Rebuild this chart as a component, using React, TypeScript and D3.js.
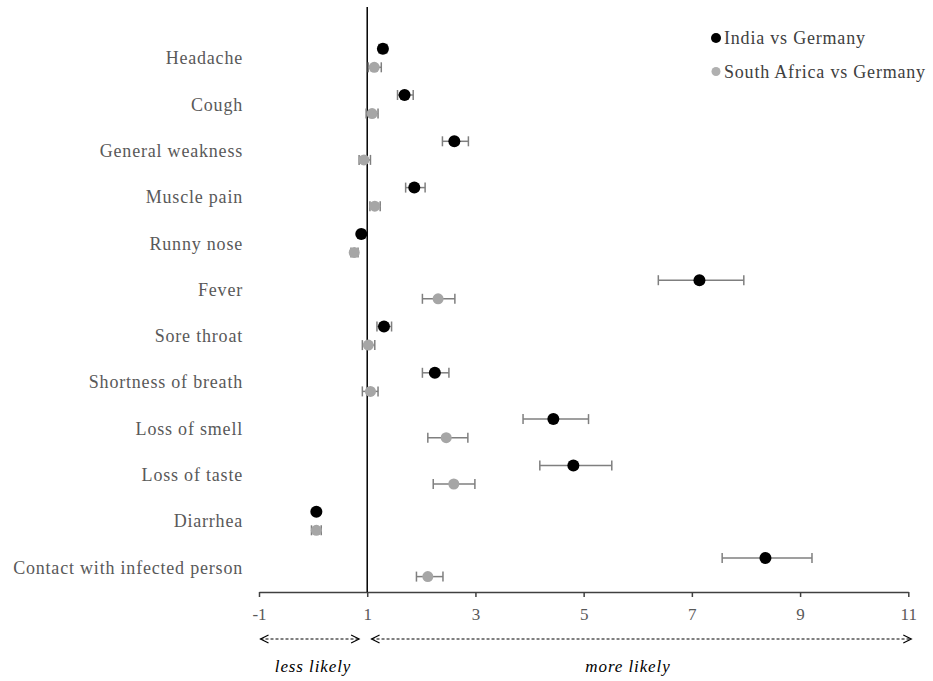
import React, { useEffect, useRef } from 'react';
import * as d3 from 'd3';

const categories = [
  'Headache', 'Cough', 'General weakness', 'Muscle pain', 'Runny nose', 'Fever',
  'Sore throat', 'Shortness of breath', 'Loss of smell', 'Loss of taste', 'Diarrhea',
  'Contact with infected person',
];

// India vs Germany: odds ratio with lower/upper bounds
const indiaOR = [1.29, 1.69, 2.61, 1.87, 0.89, 7.14, 1.31, 2.25, 4.44, 4.81, 0.06, 8.36];
const indiaLo = [1.22, 1.56, 2.39, 1.71, 0.84, 6.38, 1.18, 2.02, 3.88, 4.19, 0.04, 7.56];
const indiaHi = [1.36, 1.85, 2.87, 2.07, 0.95, 7.96, 1.45, 2.51, 5.09, 5.52, 0.08, 9.22];

// South Africa vs Germany
const saOR = [1.13, 1.09, 0.94, 1.14, 0.76, 2.31, 1.02, 1.06, 2.46, 2.60, 0.06, 2.12];
const saLo = [1.02, 0.98, 0.85, 1.05, 0.70, 2.02, 0.91, 0.91, 2.12, 2.22, -0.03, 1.91];
const saHi = [1.26, 1.20, 1.06, 1.24, 0.83, 2.62, 1.14, 1.20, 2.86, 2.99, 0.15, 2.40];

const xTicks = [-1, 1, 3, 5, 7, 9, 11];
const seriesNames = ['India vs Germany', 'South Africa vs Germany'];

const width = 933;
const height = 681;
const font = '"Liberation Serif", "Times New Roman", serif';

const App = () => {
  const svgRef = useRef<SVGSVGElement>(null);

  useEffect(() => {
    const svg = d3.select(svgRef.current);
    svg.selectAll('*').remove();

    const x = d3.scaleLinear().domain([-1, 11]).range([259, 908.3]);
    const y = d3.scalePoint().domain(categories).range([58, 567.3]);
    const axisY = 592;

    const series = [
      { or: indiaOR, lo: indiaLo, hi: indiaHi, color: '#000000', dy: -9.3, r: 6 },
      { or: saOR, lo: saLo, hi: saHi, color: '#a6a6a6', dy: 9.3, r: 5.5 },
    ];

    // category labels
    svg.append('g')
      .selectAll('text')
      .data(categories)
      .join('text')
      .attr('x', 243)
      .attr('y', d => y(d)!)
      .attr('dy', '0.35em')
      .attr('text-anchor', 'end')
      .attr('font-family', font)
      .attr('font-size', 18)
      .attr('letter-spacing', 0.8)
      .attr('fill', '#595959')
      .text(d => d);

    // x axis
    const xAxis = d3.axisBottom(x).tickValues(xTicks).tickSize(5).tickSizeOuter(0).tickFormat(d => String(d));
    const gx = svg.append('g').attr('transform', `translate(0, ${axisY})`).call(xAxis);
    gx.select('.domain').attr('stroke', '#404040').attr('stroke-width', 1.5);
    gx.selectAll('.tick line').attr('stroke', '#404040').attr('stroke-width', 1.5);
    gx.selectAll('.tick text')
      .attr('font-family', font)
      .attr('font-size', 17)
      .attr('fill', '#595959')
      .attr('y', 16);

    // reference line at 1
    svg.append('line')
      .attr('x1', x(1)).attr('x2', x(1))
      .attr('y1', 7).attr('y2', axisY)
      .attr('stroke', '#000').attr('stroke-width', 1.5);

    // error bars + points
    series.forEach(s => {
      const g = svg.append('g');
      categories.forEach((c, i) => {
        const cy = y(c)! + s.dy;
        g.append('line')
          .attr('x1', x(s.lo[i])).attr('x2', x(s.hi[i]))
          .attr('y1', cy).attr('y2', cy)
          .attr('stroke', '#7f7f7f').attr('stroke-width', 1.5);
        [s.lo[i], s.hi[i]].forEach(v => {
          g.append('line')
            .attr('x1', x(v)).attr('x2', x(v))
            .attr('y1', cy - 5).attr('y2', cy + 5)
            .attr('stroke', '#7f7f7f').attr('stroke-width', 1.5);
        });
        g.append('circle')
          .attr('cx', x(s.or[i])).attr('cy', cy).attr('r', s.r)
          .attr('fill', s.color);
      });
    });

    // legend
    const legend = svg.append('g');
    seriesNames.forEach((name, i) => {
      const ly = 38 + i * 33.5;
      legend.append('circle')
        .attr('cx', 716).attr('cy', ly).attr('r', i === 0 ? 5 : 4.5)
        .attr('fill', i === 0 ? '#000' : '#b0b0b0');
      legend.append('text')
        .attr('x', 724).attr('y', ly).attr('dy', '0.35em')
        .attr('font-family', font).attr('font-size', 18)
        .attr('letter-spacing', 0.8)
        .attr('fill', '#404040')
        .text(name);
    });

    // dashed arrows below the axis
    const arrowY = 639;
    const drawArrow = (a: number, b: number) => {
      svg.append('line')
        .attr('x1', a).attr('x2', b)
        .attr('y1', arrowY).attr('y2', arrowY)
        .attr('stroke', '#000').attr('stroke-width', 1)
        .attr('stroke-dasharray', '3,2');
      const head = (px: number, dir: number) => {
        svg.append('path')
          .attr('d', `M${px - dir * 8},${arrowY - 4} L${px},${arrowY} L${px - dir * 8},${arrowY + 4}`)
          .attr('fill', 'none').attr('stroke', '#000').attr('stroke-width', 1.2);
      };
      head(a, -1);
      head(b, 1);
    };
    drawArrow(x(-1) + 1.5, x(0.85));
    drawArrow(x(1.08), x(11) + 3);

    svg.append('text')
      .attr('x', 313).attr('y', 672)
      .attr('text-anchor', 'middle')
      .attr('font-family', font).attr('font-style', 'italic').attr('font-size', 17)
      .attr('letter-spacing', 0.9)
      .attr('fill', '#000')
      .text('less likely');
    svg.append('text')
      .attr('x', 628).attr('y', 672)
      .attr('text-anchor', 'middle')
      .attr('font-family', font).attr('font-style', 'italic').attr('font-size', 17)
      .attr('letter-spacing', 0.9)
      .attr('fill', '#000')
      .text('more likely');
  }, []);

  return (
    <svg
      ref={svgRef}
      width={width}
      height={height}
      style={{ position: 'absolute', left: 0, top: 0, background: '#fff' }}
    />
  );
};

export default App;
